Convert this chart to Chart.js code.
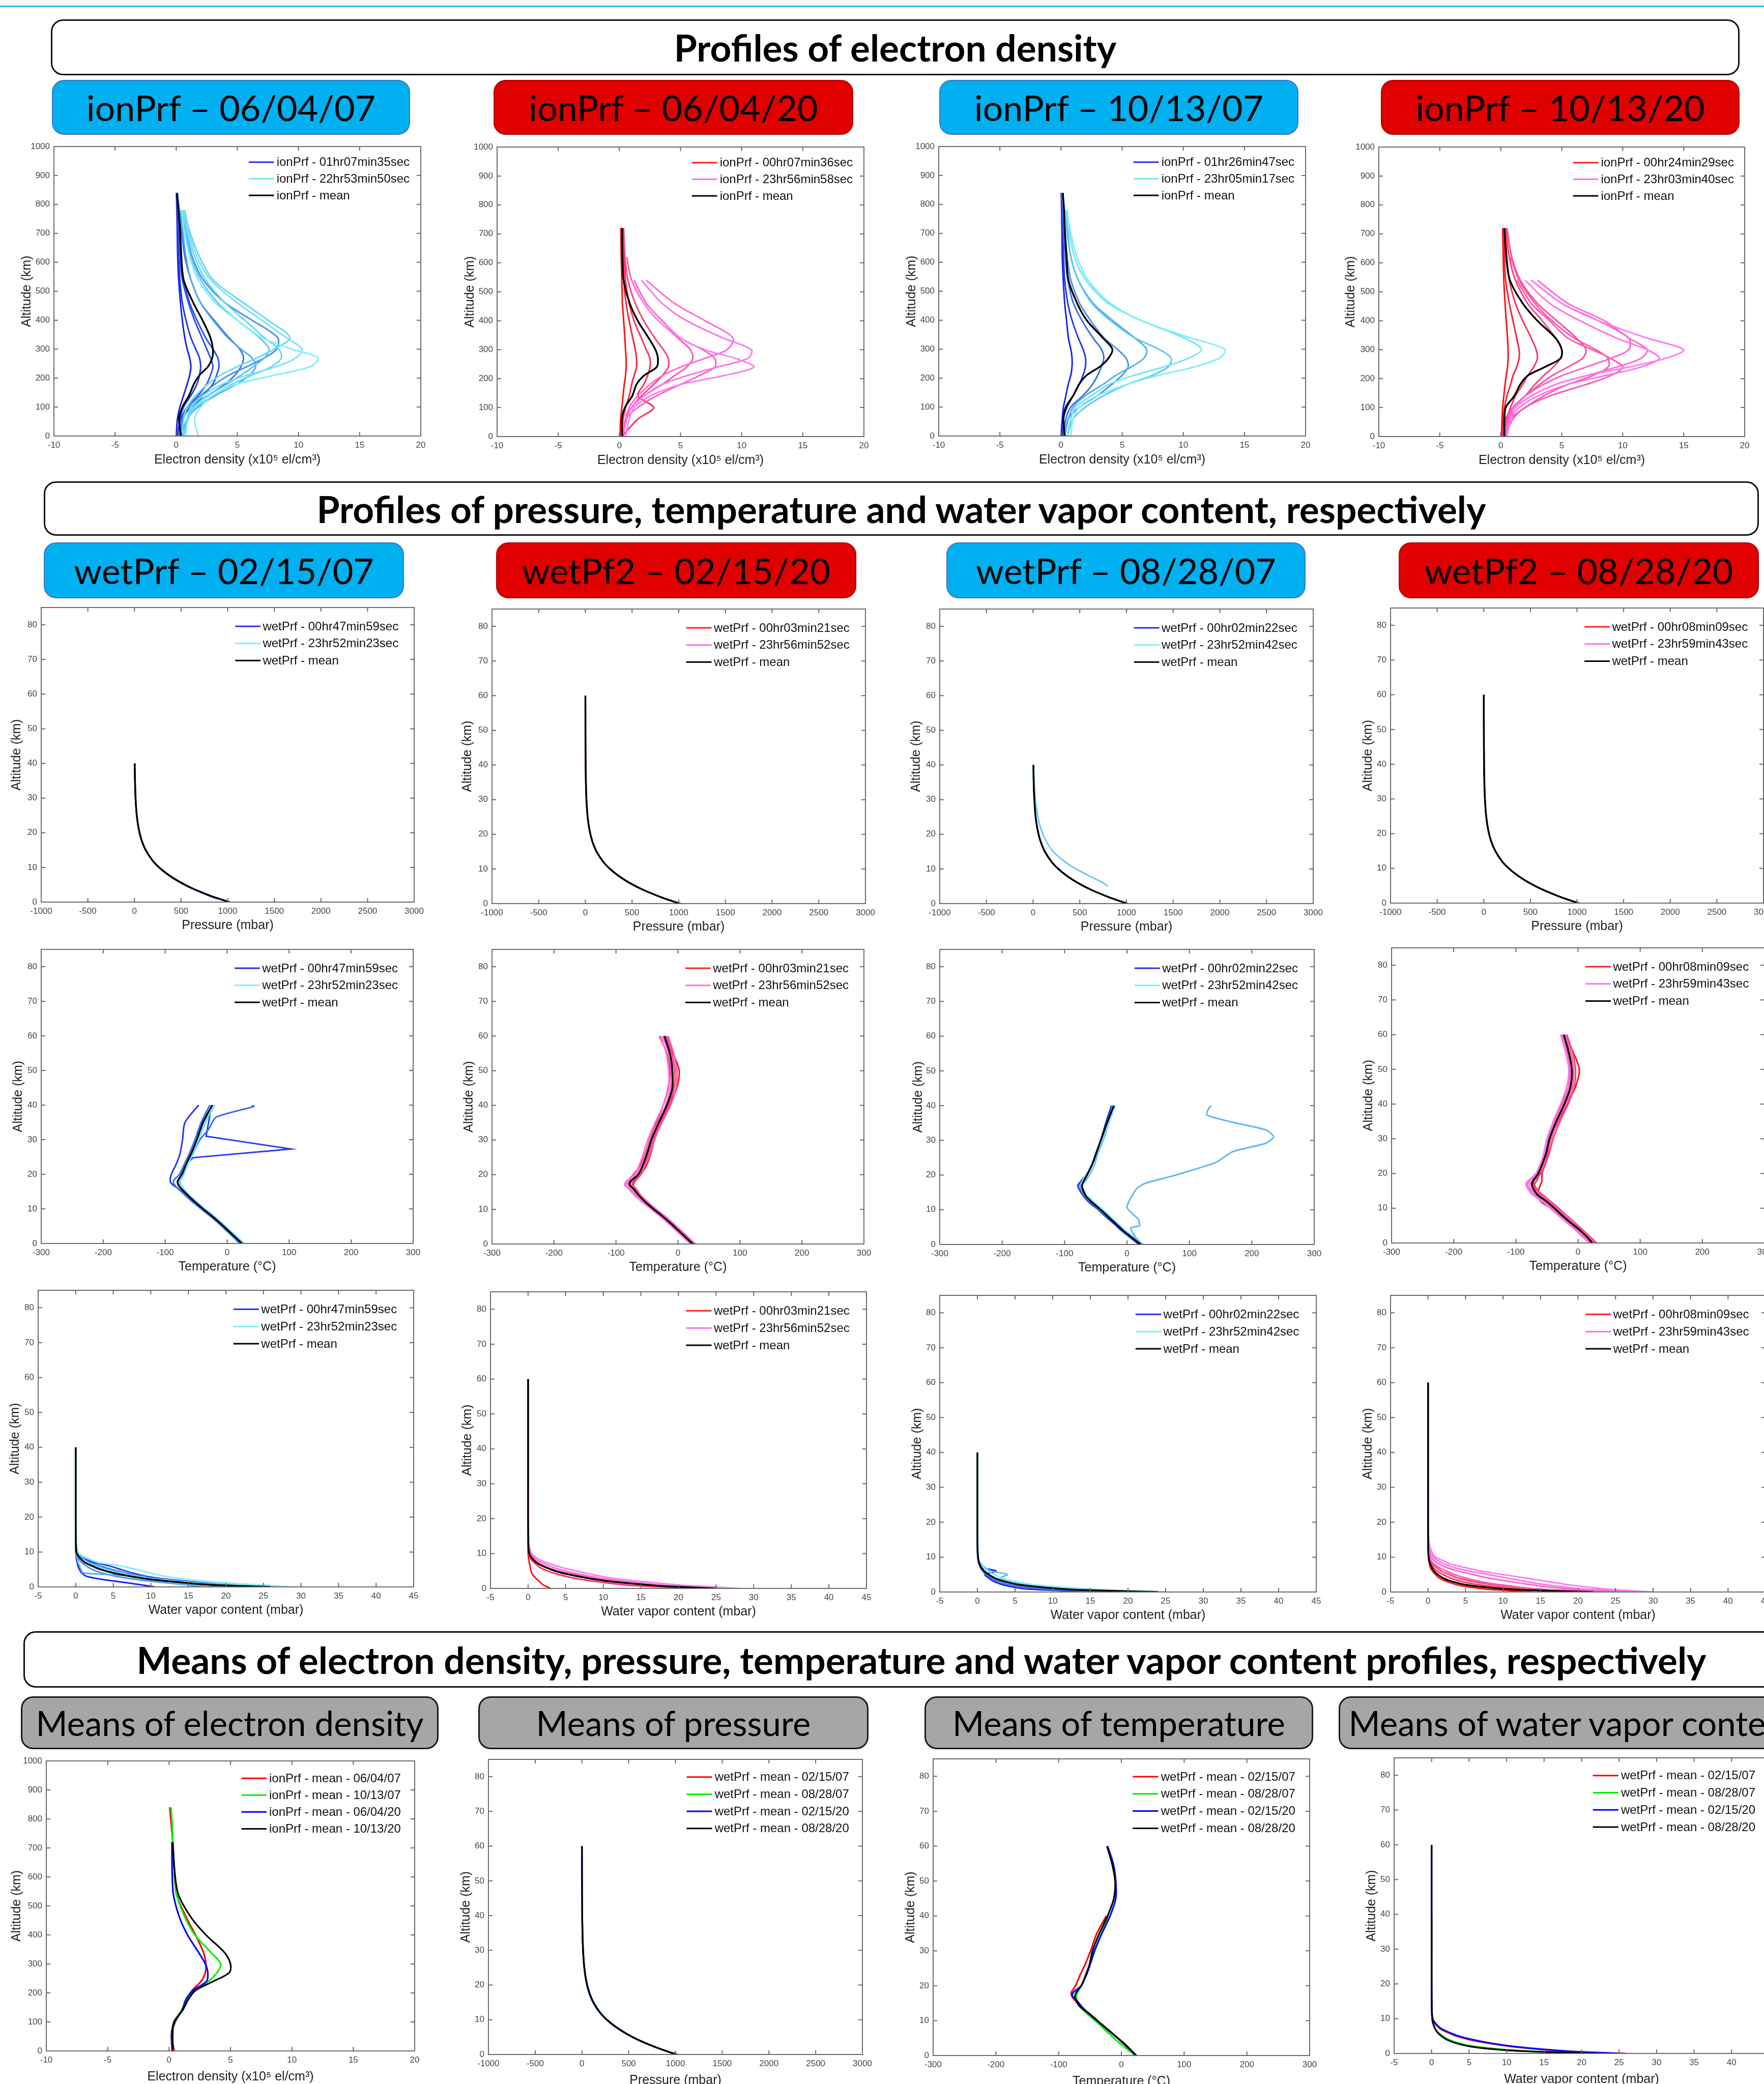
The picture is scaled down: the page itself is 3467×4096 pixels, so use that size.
<!DOCTYPE html>
<html>
<head>
<meta charset="utf-8">
<script src="https://cdn.jsdelivr.net/npm/chart.js@4.4.1/dist/chart.umd.min.js"></script>
<style>
  html, body { margin: 0; padding: 0; background: #fff; overflow: hidden; }
  #page { position: relative; width: 3467px; height: 4096px; overflow: hidden; background: #fff; }
  .rule { position: absolute; left: 0; top: 11px; width: 3467px; height: 3px; background: #29aee6; }
  .title { position: absolute; box-sizing: border-box; border: 3px solid #111; border-radius: 24px; background: #fff;
           font-family: Lato, "Open Sans", sans-serif; font-weight: 700; font-size: 73px; color: #000;
           display: flex; align-items: center; justify-content: center; white-space: nowrap; }
  .tag { position: absolute; box-sizing: border-box; border-radius: 24px; font-family: Lato, "Open Sans", sans-serif;
         font-size: 70px; color: #000; display: flex; align-items: center; justify-content: center; white-space: nowrap; }
  .blue { background: #00b0f0; border: 2px solid #4472c4; }
  .red { background: #e00000; border: 2px solid #b00000; }
  .grey { background: #a6a6a6; border: 3px solid #1a1a1a; font-size: 67px; }
  canvas { position: absolute; }
</style>
</head>
<body>
<div id="page">
  <div class="rule"></div>
  <div class="title" style="left:100px;top:38px;width:3319px;height:110px">Profiles of electron density</div>
  <div class="tag blue" style="left:102px;top:157px;width:704px;height:108px">ionPrf – 06/04/07</div>
  <div class="tag red" style="left:970px;top:157px;width:707px;height:108px">ionPrf – 06/04/20</div>
  <div class="tag blue" style="left:1846px;top:157px;width:706px;height:108px">ionPrf – 10/13/07</div>
  <div class="tag red" style="left:2714px;top:157px;width:705px;height:108px">ionPrf – 10/13/20</div>

  <div class="title" style="left:86px;top:946px;width:3371px;height:107px">Profiles of pressure, temperature and water vapor content, respectively</div>
  <div class="tag blue" style="left:86px;top:1066px;width:708px;height:110px">wetPrf – 02/15/07</div>
  <div class="tag red" style="left:975px;top:1066px;width:708px;height:110px">wetPf2 – 02/15/20</div>
  <div class="tag blue" style="left:1860px;top:1066px;width:706px;height:110px">wetPrf – 08/28/07</div>
  <div class="tag red" style="left:2749px;top:1066px;width:708px;height:110px">wetPf2 – 08/28/20</div>

  <div class="title" style="left:46px;top:3206px;width:3530px;height:111px">Means of electron density, pressure, temperature and water vapor content profiles, respectively</div>
  <div class="tag grey" style="left:41px;top:3334px;width:821px;height:104px">Means of electron density</div>
  <div class="tag grey" style="left:940px;top:3334px;width:767px;height:104px">Means of pressure</div>
  <div class="tag grey" style="left:1817px;top:3334px;width:764px;height:104px">Means of temperature</div>
  <div class="tag grey" style="left:2631px;top:3334px;width:920px;height:104px">Means of water vapor content</div>
</div>

<script>
// ---------- altitude grids (km) ----------
const ionAlt   = [0, 60, 100, 140, 180, 210, 240, 270, 300, 340, 400, 460, 540, 620, 720, 780, 840];
const pressAlt = [0, 1, 2, 4, 6, 8, 10, 12, 15, 18, 21, 25, 30, 35, 40, 50, 60];
const tempAlt  = [0, 2, 4, 6, 8, 10, 12, 14, 16, 17, 18, 20, 23, 26, 30, 35, 40, 45, 50, 55, 60];
const wvAlt    = [0, 0.5, 1, 2, 3, 4, 5, 6, 7, 8, 9, 10, 12, 15, 20, 30, 40, 50, 60];

// ---------- electron density (x10^5 el/cm3) ----------
const ionMean_060407 = [0.4, 0.23, 0.5, 1.05, 1.45, 1.9, 2.6, 2.95, 3.0, 2.8, 2.15, 1.4, 0.6, 0.42, 0.3, 0.18, 0.05];
const ionPrf_060407 = [
  [0.0, 0.1, 0.3, 0.6, 0.9, 1.1, 1.2, 1.1, 0.9, 0.7, 0.5, 0.35, 0.2, 0.12, 0.08, 0.05, 0.02],
  [0.1, 0.3, 0.6, 1.2, 1.7, 1.9, 2.0, 1.9, 1.6, 1.2, 0.8, 0.5, 0.3, 0.2, 0.12, 0.08, 0.03],
  [0.2, 0.4, 0.9, 1.8, 2.5, 2.8, 3.0, 2.8, 2.5, 2.1, 1.5, 1.0, 0.5, 0.3, 0.2, 0.1, 0.04],
  [0.3, 0.5, 1.2, 2.2, 3.0, 3.3, 3.5, 3.4, 3.0, 2.4, 1.7, 1.1, 0.6, 0.4, 0.25, 0.15, 0.05],
  [0.2, 0.5, 1.1, 2.6, 4.0, 4.8, 5.3, 5.5, 5.2, 4.3, 3.1, 2.0, 1.2, 0.7, 0.4, 0.25, 0.1],
  [0.3, 0.6, 1.0, 2.0, 3.2, 4.3, 5.8, 7.2, 8.2, 8.3, 6.2, 4.0, 2.2, 1.3, 0.7, 0.45, null],
  [0.4, 0.9, 1.8, 3.2, 5.0, 6.0, 6.5, 6.2, 5.3, 4.2, 3.0, 2.0, 1.2, 0.8, 0.5, 0.35, null],
  [0.6, 0.9, 1.4, 2.6, 4.2, 5.3, 6.3, 7.2, 7.6, 6.8, 5.0, 3.4, 2.0, 1.2, 0.7, 0.5, null],
  [0.6, 1.0, 1.6, 3.0, 4.6, 6.2, 7.8, 8.6, 8.4, 7.2, 5.6, 4.0, 2.4, 1.5, 0.8, 0.55, null],
  [0.5, 0.6, 0.9, 1.6, 2.6, 3.6, 5.0, 6.6, 8.0, 9.3, 7.5, 5.5, 3.0, 1.9, 1.0, 0.7, null],
  [0.8, 0.9, 1.2, 2.2, 3.8, 5.8, 8.2, 9.8, 10.3, 9.0, 7.0, 5.0, 2.8, 1.7, 0.9, 0.6, null],
  [1.8, 1.5, 2.0, 3.0, 5.0, 8.0, 11.0, 11.6, 9.5, 7.0, 5.0, 3.2, 1.8, 1.1, 0.6, 0.45, null]
];
const ionMean_060420 = [0.25, 0.2, 0.45, 1.05, 1.4, 2.0, 3.05, 3.15, 2.95, 2.4, 1.5, 0.85, 0.35, 0.25, 0.23, null, null];
const ionPrf_060420 = [
  [0.05, 0.1, 0.2, 0.3, 0.4, 0.5, 0.55, 0.55, 0.5, 0.45, 0.35, 0.25, 0.2, 0.15, 0.12, null, null],
  [0.1, 0.3, 0.5, 0.8, 1.0, 1.2, 1.4, 1.4, 1.3, 1.1, 0.8, 0.55, 0.35, 0.3, 0.25, null, null],
  [0.2, 1.5, 2.8, 1.5, 2.0, 2.3, 2.5, 2.5, 2.2, 1.8, 1.2, 0.8, 0.5, 0.4, 0.3, null, null],
  [0.3, 0.5, 1.0, 1.8, 2.8, 3.5, 4.0, 4.0, 3.6, 2.9, 2.0, 1.3, 0.7, 0.45, 0.35, null, null],
  [0.2, 0.5, 1.0, 2.0, 3.5, 4.5, 5.5, 6.0, 5.8, 4.8, 3.2, 2.0, 1.0, 0.6, null, null, null],
  [0.2, 0.5, 1.5, 3.0, 5.0, 6.5, 7.8, 7.8, 6.8, 5.0, 3.5, 2.2, 1.2, null, null, null, null],
  [0.3, 0.5, 0.8, 1.5, 2.5, 3.5, 5.0, 7.0, 8.8, 9.3, 7.0, 4.5, 2.2, null, null, null, null],
  [0.3, 0.6, 1.0, 2.0, 3.5, 5.5, 8.0, 10.5, 10.8, 8.5, 5.5, 3.5, 1.8, null, null, null, null],
  [0.5, 0.8, 1.2, 2.5, 5.0, 8.5, 11.0, 9.5, 7.0, 5.0, 3.2, 2.0, 1.0, null, null, null, null]
];
const ionMean_101307 = [0.3, 0.2, 0.4, 1.0, 1.5, 2.1, 3.2, 3.9, 4.2, 3.4, 2.1, 1.3, 0.6, 0.45, 0.3, 0.25, 0.15];
const ionPrf_101307 = [
  [0.0, 0.1, 0.2, 0.4, 0.6, 0.8, 0.9, 0.9, 0.8, 0.6, 0.45, 0.3, 0.18, 0.1, 0.07, 0.05, 0.02],
  [0.1, 0.2, 0.5, 1.0, 1.5, 1.8, 2.0, 2.0, 1.8, 1.4, 0.9, 0.55, 0.3, 0.2, 0.12, 0.08, 0.04],
  [0.2, 0.4, 0.8, 1.8, 2.6, 3.0, 3.3, 3.5, 3.3, 2.6, 1.7, 1.0, 0.55, 0.35, 0.22, 0.15, 0.08],
  [0.3, 0.6, 1.5, 3.0, 4.2, 5.0, 5.5, 5.3, 4.6, 3.5, 2.4, 1.5, 0.8, 0.5, 0.3, 0.2, 0.1],
  [0.3, 0.6, 1.0, 2.0, 3.5, 4.5, 5.8, 6.8, 7.0, 6.0, 4.2, 2.6, 1.4, 0.8, 0.45, 0.3, null],
  [0.5, 1.0, 2.0, 3.5, 5.5, 7.5, 8.8, 9.0, 8.0, 6.0, 4.0, 2.5, 1.4, 0.8, 0.5, 0.3, null],
  [0.5, 0.8, 1.2, 2.5, 4.0, 6.0, 8.5, 10.5, 11.5, 10.0, 6.5, 3.8, 2.0, 1.1, 0.6, 0.4, null],
  [0.8, 1.0, 1.5, 3.0, 5.5, 8.0, 11.0, 13.0, 13.4, 10.5, 6.5, 4.0, 2.2, 1.3, 0.7, 0.5, null]
];
const ionMean_101320 = [0.3, 0.3, 0.4, 1.1, 1.6, 2.2, 3.6, 4.9, 5.0, 4.5, 3.0, 1.8, 0.75, 0.45, 0.3, null, null];
const ionPrf_101320 = [
  [0.05, 0.1, 0.15, 0.25, 0.35, 0.45, 0.55, 0.6, 0.6, 0.55, 0.45, 0.35, 0.25, 0.2, 0.15, null, null],
  [0.1, 0.2, 0.3, 0.5, 0.8, 1.0, 1.3, 1.5, 1.5, 1.3, 1.0, 0.7, 0.4, 0.3, 0.2, null, null],
  [0.2, 0.5, 0.8, 1.2, 1.8, 2.2, 2.7, 3.0, 2.9, 2.5, 1.8, 1.2, 0.7, 0.5, 0.35, null, null],
  [0.2, 0.4, 1.0, 2.0, 2.8, 3.5, 4.3, 4.9, 5.0, 4.5, 3.4, 2.2, 1.2, 0.7, 0.4, null, null],
  [0.3, 0.5, 1.0, 2.0, 3.2, 4.2, 5.5, 6.7, 7.0, 6.2, 4.6, 3.0, 1.6, 0.9, 0.5, null, null],
  [0.3, 0.8, 2.0, 3.5, 5.5, 7.5, 8.8, 8.8, 7.8, 6.0, 4.2, 2.8, 1.5, 0.8, null, null, null],
  [0.3, 1.0, 2.0, 4.0, 7.0, 9.0, 10.0, 9.0, 7.5, 5.5, 4.0, 2.5, 1.3, null, null, null, null],
  [0.3, 0.6, 1.0, 2.0, 3.5, 5.0, 7.0, 9.0, 10.5, 10.5, 8.0, 5.0, 2.5, null, null, null, null],
  [0.4, 0.7, 1.2, 2.5, 4.5, 7.0, 9.5, 11.5, 12.0, 10.5, 8.5, 5.5, 3.0, null, null, null, null],
  [0.5, 0.8, 1.5, 3.0, 5.5, 8.5, 11.5, 13.0, 12.0, 9.5, 6.5, 4.0, 2.0, null, null, null, null],
  [0.5, 0.8, 1.2, 2.5, 4.5, 7.0, 10.5, 13.5, 15.0, 12.0, 8.0, 5.0, 2.5, null, null, null, null]
];

// ---------- pressure (mbar) ----------
const pMean_021507 = [1020, 902, 797, 618, 473, 357, 265, 194, 121, 75, 47, 25, 12, 6, 3];
const pPrf_021507 = [
  [null, 885, 785, 610, 468, 354, 263, 193, 120, 74, 46, 24, 11, 5, 2.5],
  [1025, 905, 800, 620, 476, 360, 267, 196, 122, 76, 47, 25, 12, 6, 3]
];
const pMean_021520 = [1015, 900, 796, 617, 472, 356, 264, 193, 120, 74, 46, 24, 11.5, 5.5, 2.8, 0.8, 0.2];
const pPrf_021520 = [
  [1010, 896, 792, 614, 470, 354, 262, 192, 119, 73, 45, 24, 11, 5.3, 2.7, 0.8, 0.2],
  [1022, 904, 800, 621, 476, 359, 266, 195, 122, 75, 47, 25, 12, 5.8, 2.9, 0.8, 0.2]
];
const pMean_082807 = [1010, 898, 797, 620, 477, 362, 270, 199, 126, 79, 50, 27, 13, 6, 3];
const pPrf_082807 = [
  [1012, 900, 799, 622, 479, 364, 272, 200, 127, 80, 51, 27, 13, 6, 3]
];
const pOutAlt_082807 = [5, 6, 8, 10, 12, 15, 18, 21, 25, 30, 35, 40];
const pOutVal_082807 = [800, 750, 600, 460, 345, 215, 140, 90, 52, 24, 11, 5];
const pMean_082820 = [1015, 902, 799, 621, 477, 361, 268, 197, 124, 77, 48, 26, 12.5, 6, 3, 0.8, 0.2];
const pPrf_082820 = [
  [1012, 899, 796, 618, 474, 358, 266, 195, 123, 76, 48, 25, 12, 5.8, 2.9, 0.8, 0.2],
  [1025, 908, 803, 624, 479, 363, 270, 198, 125, 78, 49, 26, 12.5, 6, 3, 0.8, 0.2]
];

// ---------- temperature (°C) ----------
const tMean_021507 = [24, 12, 0, -12, -25, -39, -52, -64, -75, -79, -80, -73, -66, -58, -49, -39, -24];
const tPrf_021507 = [
  [23, 11, -1, -13, -26, -40, -54, -66, -80, -88, -92, -90, -82, -76, -72, -68, -46],
  [20, 9, -3, -15, -28, -42, -56, -68, -80, -85, -87, -77, -69, -61, -52, -42, -28],
  [26, 14, 2, -10, -23, -37, -50, -62, -72, -76, -77, -71, -65, -57, -48, -36, -21],
  [27, 15, 3, -9, -22, -36, -49, -61, -71, -75, -76, -70, -63, -55, -46, -35, -20],
  [25, 13, 1, -11, -24, -38, -51, -63, -74, -78, -79, -72, -64, -57, -47, -37, -22]
];
const tSpikeAlt_021507 = [0, 4, 8, 12, 16, 18, 20, 23, 24.8, 27.3, 31, 35, 40];
const tSpikeVal_021507 = [24, 0, -25, -52, -75, -80, -74, -66, -55, 103, -34, -30, -25];
const tHookAlt_021507  = [0, 4, 8, 12, 16, 18, 22, 26, 30, 33, 36.5, 39.6, 40];
const tHookVal_021507  = [25, 1, -24, -50, -73, -78, -68, -55, -44, -30, -18, 43, 40];

const tMean_021520 = [24, 12, 0, -12, -25, -39, -52, -63, -72, -78, -77, -64, -56, -50, -43, -31, -18, -9, -9, -13, -22];
const tPrf_021520 = [
  [22, 10, -2, -14, -27, -41, -54, -64, -70, -72, -70, -60, -50, -44, -38, -28, -14, -2, 2, -8, -20],
  [26, 14, 2, -10, -23, -37, -50, -62, -74, -80, -82, -72, -60, -53, -46, -35, -24, -16, -13, -18, -30],
  [27, 15, 3, -9, -22, -36, -49, -60, -68, -73, -72, -60, -53, -47, -40, -28, -15, -6, -5, -10, -18],
  [28, 16, 4, -8, -21, -35, -48, -60, -70, -76, -75, -62, -52, -45, -38, -26, -12, -3, -2, -7, -16],
  [23, 11, -1, -13, -26, -40, -53, -66, -78, -84, -82, -68, -58, -52, -45, -33, -20, -12, -11, -15, -25],
  [20, 8, -4, -16, -29, -43, -57, -70, -80, -86, -84, -70, -62, -56, -49, -37, -24, -15, -15, -19, -28],
  [25, 13, 1, -11, -24, -38, -51, -62, -73, -80, -80, -66, -57, -51, -44, -32, -19, -10, -8, -12, -21]
];
const tMean_082807 = [22, 8, -6, -18, -30, -42, -55, -66, -71, -72, -70, -64, -56, -50, -42, -32, -21];
const tPrf_082807 = [
  [19, 5, -9, -21, -34, -46, -60, -70, -77, -79, -75, -66, -56, -49, -42, -34, -25],
  [22, 8, -6, -18, -31, -44, -57, -68, -74, -76, -72, -65, -56, -50, -42, -32, -22],
  [24, 10, -4, -16, -29, -42, -55, -65, -72, -74, -68, -60, -52, -47, -38, -29, -19],
  [26, 12, -2, -14, -26, -38, -51, -63, -70, -73, -72, -66, -57, -50, -41, -30, -18]
];
const tOutAlt_082807 = [0, 2, 4.8, 5.4, 7.3, 10.7, 16, 17.6, 19.8, 23.6, 26.7, 29.2, 31, 33, 35.4, 37.3, 39.2, 40];
const tOutVal_082807 = [25, 14, 6, 20, 18, 0, 15, 29, 74, 142, 169, 223, 235, 223, 165, 128, 131, 135];
const tMean_082820 = [23, 13, 1, -13, -26, -38, -51, -66, -73, -74, -72, -64, -57, -51, -46, -35, -22, -12, -10, -15, -23];
const tPrf_082820 = [
  [22, 11, -1, -14, -28, -44, -60, -66, -62, -60, -58, -58, -52, -48, -44, -32, -18, -4, 2, -8, -20],
  [26, 14, 2, -11, -24, -36, -48, -62, -68, -70, -66, -62, -58, -52, -46, -38, -26, -18, -12, -16, -26],
  [30, 18, 6, -6, -19, -31, -44, -58, -70, -72, -70, -60, -52, -46, -40, -29, -16, -6, -4, -9, -18],
  [28, 16, 4, -8, -21, -34, -47, -62, -72, -76, -73, -63, -55, -49, -43, -33, -19, -9, -7, -12, -20],
  [20, 9, -3, -16, -29, -42, -55, -70, -80, -82, -78, -67, -60, -54, -49, -38, -25, -15, -13, -18, -26],
  [18, 6, -6, -19, -32, -45, -58, -74, -82, -84, -80, -68, -60, -55, -50, -40, -28, -18, -15, -20, -28],
  [24, 12, 0, -12, -25, -39, -53, -68, -77, -79, -76, -66, -59, -53, -47, -36, -23, -13, -11, -15, -24]
];

// ---------- water vapor content (mbar) ----------
const wMean_021507 = [25.9, 19, 15.6, 10.7, 7.4, 5.0, 3.3, 2.2, 1.2, 0.7, 0.3, 0.1, 0.03, 0.01, 0, 0, 0];
const wPrf_021507 = [
  [10.5, 9, 7.5, 4, 1.5, 0.8, 0.5, 0.3, 0.2, 0.1, 0.05, 0, 0, 0, 0, 0, 0],
  [26, 22, 18, 13, 9.5, 7.5, 6, 4.5, 2.5, 1.2, 0.5, 0.2, 0.05, 0, 0, 0, 0],
  [24, 20, 17, 12, 8.5, 6.5, 4.8, 3.2, 2.0, 1.1, 0.5, 0.2, 0.05, 0, 0, 0, 0],
  [21, 17, 13, 8.5, 5.5, 3.5, 2.2, 1.4, 0.8, 0.4, 0.2, 0.1, 0.03, 0, 0, 0, 0],
  [17, 15, 13, 10, 9, 1.0, 0.7, 0.5, 0.3, 0.2, 0.1, 0.05, 0, 0, 0, 0, 0],
  [23, 18, 15, 11, 8, 5.5, 4, 2.5, 1.4, 0.8, 0.35, 0.12, 0.04, 0, 0, 0, 0],
  [27.5, 22, 17, 12, 8, 6, 4, 2.8, 1.6, 0.9, 0.4, 0.15, 0.05, 0, 0, 0, 0],
  [28.5, 25, 21, 15.5, 12, 10, 8, 6, 3, 1.8, 0.8, 0.3, 0.1, 0, 0, 0, 0]
];
const wMean_021520 = [25, 19.5, 16, 11, 7.8, 5.4, 3.6, 2.4, 1.4, 0.8, 0.4, 0.15, 0.05, 0.02, 0, 0, 0, 0, 0];
const wPrf_021520 = [
  [3, 2.5, 2, 1.5, 1, 0.6, 0.4, 0.3, 0.2, 0.1, 0.05, 0, 0, 0, 0, 0, 0, 0, 0],
  [22, 17, 13, 9, 6, 4, 2.6, 1.6, 1.0, 0.5, 0.2, 0.1, 0.03, 0, 0, 0, 0, 0, 0],
  [25, 20, 16.5, 12, 8.5, 6, 4, 2.6, 1.6, 0.9, 0.5, 0.2, 0.06, 0.02, 0, 0, 0, 0, 0],
  [26, 21, 17.5, 13, 9.5, 7, 5, 3.4, 2.2, 1.3, 0.7, 0.3, 0.1, 0.03, 0, 0, 0, 0, 0],
  [28, 24, 20, 15, 11, 8.5, 6.5, 4.5, 3, 1.8, 1.0, 0.5, 0.15, 0.05, 0, 0, 0, 0, 0]
];
const wMean_082807 = [24, 15, 10.5, 5.8, 3.6, 2.3, 1.5, 0.9, 0.5, 0.3, 0.15, 0.08, 0.03, 0, 0, 0, 0];
const wPrf_082807 = [
  [17, 10, 6, 3.5, 2.2, 1.5, 1.0, 2.5, 0.6, 0.3, 0.1, 0.05, 0, 0, 0, 0, 0],
  [21, 12, 8, 4.5, 2.8, 1.8, 1.1, 0.7, 0.4, 0.2, 0.1, 0.05, 0, 0, 0, 0, 0],
  [23, 16, 12, 7, 4.5, 3, 4, 1.8, 1, 0.5, 0.2, 0.1, 0.02, 0, 0, 0, 0],
  [25, 19, 14, 8, 5, 3.2, 2.2, 1.4, 0.8, 0.4, 0.2, 0.1, 0.03, 0, 0, 0, 0]
];
const wMean_082820 = [22, 14, 9.5, 5.2, 3.2, 2.0, 1.3, 0.8, 0.5, 0.3, 0.15, 0.08, 0.03, 0.01, 0, 0, 0, 0, 0];
const wPrf_082820 = [
  [14, 10, 7, 4, 2.5, 1.5, 1, 0.6, 0.3, 0.2, 0.1, 0.05, 0, 0, 0, 0, 0, 0, 0],
  [18, 14, 11, 7, 4.5, 3, 2, 1.2, 0.7, 0.4, 0.2, 0.1, 0.03, 0, 0, 0, 0, 0, 0],
  [22, 17, 13, 9, 6, 4, 2.8, 1.8, 1.1, 0.6, 0.3, 0.15, 0.04, 0, 0, 0, 0, 0, 0],
  [24, 18, 14, 10, 7, 5, 3.5, 2.5, 1.5, 0.8, 0.4, 0.2, 0.05, 0.02, 0, 0, 0, 0, 0],
  [26, 22, 18, 14, 11, 8, 6, 4, 2.5, 1.5, 0.8, 0.4, 0.1, 0.03, 0, 0, 0, 0, 0],
  [28, 24, 20, 16, 13, 10.5, 8, 5.5, 3.5, 2.2, 1.3, 0.7, 0.2, 0.05, 0, 0, 0, 0, 0],
  [30, 26, 23, 19, 16, 13, 10, 7, 5, 3, 2, 1, 0.4, 0.1, 0, 0, 0, 0, 0]
];

// ---------- styling ----------
const FONT = '"Liberation Sans", Arial, Helvetica, sans-serif';
const BLUES = ['#1a22f0', '#2238f0', '#2c52f0', '#386ef0', '#4a90ee', '#56acf0', '#60c4f4', '#68d6f6', '#72e4f8', '#7cf0fb'];
const REDS  = ['#ff1010', '#ff2038', '#ff2f5c', '#ff3f7c', '#ff4c98', '#ff58b0', '#ff62c6', '#ff6bd8', '#ff74e6', '#ff7cf0'];
const LEG_B = ['#2a30f2', '#6ee8f8'];
const LEG_R = ['#ff2020', '#ff70e6'];
const PRF_W = 3;

function pts(alt, vals) {
  const out = [];
  vals.forEach(function (v, i) { if (v !== null) out.push({ x: v, y: alt[i] }); });
  return out;
}
function line(data, color, width, tension) {
  return { data: data, borderColor: color, backgroundColor: color, borderWidth: width, showLine: true,
           pointRadius: 0, pointHoverRadius: 0, tension: tension, fill: false };
}
function bundle(alt, profiles, palette) {
  return profiles.map(function (v, i) {
    const k = Math.round(i * (palette.length - 1) / Math.max(1, profiles.length - 1));
    return line(pts(alt, v), palette[k], PRF_W, 0.3);
  });
}

// MATLAB-like box, inward ticks and legend
const matlabBox = {
  id: 'matlabBox',
  afterDatasetsDraw(chart, args, o) {
    const ctx = chart.ctx, a = chart.chartArea;
    const xs = chart.scales.x, ys = chart.scales.y;
    const w = a.right - a.left, h = a.bottom - a.top;
    ctx.save();
    ctx.strokeStyle = '#6b6b6b';
    ctx.lineWidth = 2;
    ctx.strokeRect(a.left, a.top, w, h);
    ctx.beginPath();
    xs.ticks.forEach(function (t) {
      const px = xs.getPixelForValue(t.value);
      ctx.moveTo(px, a.bottom); ctx.lineTo(px, a.bottom - 8);
      ctx.moveTo(px, a.top); ctx.lineTo(px, a.top + 8);
    });
    ys.ticks.forEach(function (t) {
      const py = ys.getPixelForValue(t.value);
      ctx.moveTo(a.left, py); ctx.lineTo(a.left + 8, py);
      ctx.moveTo(a.right, py); ctx.lineTo(a.right - 8, py);
    });
    ctx.stroke();
    ctx.font = '24px ' + FONT;
    ctx.textBaseline = 'middle';
    ctx.textAlign = 'left';
    ctx.fillStyle = '#111';
    o.entries.forEach(function (e, i) {
      const y = a.top + h * (o.r0 + i * o.step);
      ctx.strokeStyle = e.c;
      ctx.lineWidth = 3;
      ctx.beginPath();
      ctx.moveTo(a.left + w * o.x0, y); ctx.lineTo(a.left + w * o.x1, y);
      ctx.stroke();
      ctx.fillText(e.t, a.left + w * o.tx, y + 1);
    });
    ctx.restore();
  }
};

function axis(min, max, step, title, fit) {
  return {
    type: 'linear', min: min, max: max,
    ticks: { stepSize: step, includeBounds: false, autoSkip: false, maxRotation: 0, padding: 8,
             color: '#444', font: { family: FONT, size: 17 }, callback: function (v) { return String(v); } },
    grid: { display: false, drawTicks: false },
    border: { display: false },
    title: { display: true, text: title, color: '#222', font: { family: FONT, size: 25 }, padding: { top: 4, bottom: 4 } },
    afterFit: fit
  };
}

// datasets are listed bottom-to-top; Chart.js paints index 0 last, so reverse
function panel(g, xr, yr, xTitle, datasets, leg, ytOff, xtOff) {
  const AXW = ytOff + 19, AXH = xtOff + 19, PT = 22, PR = 34;
  const c = document.createElement('canvas');
  c.width = Math.round(AXW + g[2] + PR);
  c.height = Math.round(PT + g[3] + AXH);
  c.style.left = Math.round(g[0] - AXW) + 'px';
  c.style.top = Math.round(g[1] - PT) + 'px';
  document.getElementById('page').appendChild(c);
  new Chart(c.getContext('2d'), {
    type: 'scatter',
    data: { datasets: datasets.slice().reverse() },
    options: {
      responsive: false, animation: false, devicePixelRatio: 1,
      layout: { padding: { top: PT, right: PR, left: 0, bottom: 0 } },
      plugins: { legend: { display: false }, tooltip: { enabled: false }, matlabBox: leg },
      scales: {
        x: axis(xr[0], xr[1], xr[2], xTitle, function (s) { s.height = AXH; }),
        y: axis(yr[0], yr[1], yr[2], 'Altitude (km)', function (s) { s.width = AXW; })
      }
    },
    plugins: [matlabBox]
  });
}

const LEG3_ION = { x0: 0.531, x1: 0.600, tx: 0.607, r0: 0.054, step: 0.0573 };
const LEG3_WET = { x0: 0.520, x1: 0.588, tx: 0.594, r0: 0.064, step: 0.058 };
const LEG4 = { x0: 0.530, x1: 0.598, tx: 0.605, r0: 0.060, step: 0.058 };
function leg(base, entries) { return Object.assign({ entries: entries }, base); }
function ent3(prefix, t1, t2, pal) {
  return [{ t: prefix + ' - ' + t1, c: pal[0] }, { t: prefix + ' - ' + t2, c: pal[1] }, { t: prefix + ' - mean', c: '#000' }];
}

const X_ION = [-10, 20, 5], Y_ION = [0, 1000, 100];
const X_P = [-1000, 3000, 500], X_T = [-300, 300, 100], X_W = [-5, 45, 5], Y_WET = [0, 85, 10];
const T_ION = 'Electron density (x10⁵ el/cm³)', T_P = 'Pressure (mbar)', T_T = 'Temperature (°C)', T_W = 'Water vapor content (mbar)';
const MEANW = 3.5;

// ---- row 1: electron density ----
panel([105.6, 288, 721, 569], X_ION, Y_ION, T_ION,
  bundle(ionAlt, ionPrf_060407, BLUES).concat([line(pts(ionAlt, ionMean_060407), '#000', MEANW, 0.3)]),
  leg(LEG3_ION, ent3('ionPrf', '01hr07min35sec', '22hr53min50sec', LEG_B)), 53, 47);
panel([976.7, 289, 721, 569], X_ION, Y_ION, T_ION,
  bundle(ionAlt, ionPrf_060420, REDS).concat([line(pts(ionAlt, ionMean_060420), '#000', MEANW, 0.3)]),
  leg(LEG3_ION, ent3('ionPrf', '00hr07min36sec', '23hr56min58sec', LEG_R)), 53, 47);
panel([1845, 288, 721, 569], X_ION, Y_ION, T_ION,
  bundle(ionAlt, ionPrf_101307, BLUES).concat([line(pts(ionAlt, ionMean_101307), '#000', MEANW, 0.3)]),
  leg(LEG3_ION, ent3('ionPrf', '01hr26min47sec', '23hr05min17sec', LEG_B)), 53, 47);
panel([2710, 289, 719, 569], X_ION, Y_ION, T_ION,
  bundle(ionAlt, ionPrf_101320, REDS).concat([line(pts(ionAlt, ionMean_101320), '#000', MEANW, 0.3)]),
  leg(LEG3_ION, ent3('ionPrf', '00hr24min29sec', '23hr03min40sec', LEG_R)), 55, 47);

// ---- row 2: pressure ----
const E_0215_07 = ['00hr47min59sec', '23hr52min23sec'];
const E_0215_20 = ['00hr03min21sec', '23hr56min52sec'];
const E_0828_07 = ['00hr02min22sec', '23hr52min42sec'];
const E_0828_20 = ['00hr08min09sec', '23hr59min43sec'];

panel([80.7, 1194, 733, 579], X_P, Y_WET, T_P,
  [line(pts(pressAlt, pPrf_021507[1]), '#7cf0fb', PRF_W, 0.3), line(pts(pressAlt, pPrf_021507[0]), '#2a2af5', PRF_W, 0.3),
   line(pts(pressAlt, pMean_021507), '#000', MEANW, 0.3)],
  leg(LEG3_WET, ent3('wetPrf', E_0215_07[0], E_0215_07[1], ['#2a2af5', '#7cf0fb'])), 48, 46);
panel([967, 1197, 734, 579], X_P, Y_WET, T_P,
  [line(pts(pressAlt, pPrf_021520[1]), '#ff70e6', PRF_W, 0.3), line(pts(pressAlt, pPrf_021520[0]), '#ff2020', PRF_W, 0.3),
   line(pts(pressAlt, pMean_021520), '#000', MEANW, 0.3)],
  leg(LEG3_WET, ent3('wetPrf', E_0215_20[0], E_0215_20[1], LEG_R)), 48, 46);
panel([1847, 1197, 734, 579], X_P, Y_WET, T_P,
  [line(pts(pressAlt, pPrf_082807[0]), '#2a2af5', PRF_W, 0.3), line(pts(pOutAlt_082807, pOutVal_082807), '#6cc8f4', PRF_W, 0.3),
   line(pts(pressAlt, pMean_082807), '#000', MEANW, 0.3)],
  leg(LEG3_WET, ent3('wetPrf', E_0828_07[0], E_0828_07[1], ['#2a2af5', '#7cf0fb'])), 46, 46);
panel([2733, 1195, 733, 580], X_P, Y_WET, T_P,
  [line(pts(pressAlt, pPrf_082820[1]), '#ff70e6', PRF_W, 0.3), line(pts(pressAlt, pPrf_082820[0]), '#ff2020', PRF_W, 0.3),
   line(pts(pressAlt, pMean_082820), '#000', MEANW, 0.3)],
  leg(LEG3_WET, ent3('wetPrf', E_0828_20[0], E_0828_20[1], LEG_R)), 44, 46);

// ---- row 3: temperature ----
panel([80.7, 1866, 731, 578], X_T, Y_WET, T_T,
  [line(pts(tSpikeAlt_021507, tSpikeVal_021507), '#2a3cf2', PRF_W, 0),
   line(pts(tHookAlt_021507, tHookVal_021507), '#3a6af0', PRF_W, 0.2)]
    .concat(bundle(tempAlt, tPrf_021507, BLUES.slice(1)))
    .concat([line(pts(tempAlt, tMean_021507), '#000', MEANW, 0.3)]),
  leg(LEG3_WET, ent3('wetPrf', E_0215_07[0], E_0215_07[1], ['#2a2af5', '#7cf0fb'])), 45, 46);
panel([967, 1866, 731, 579], X_T, Y_WET, T_T,
  bundle(tempAlt, tPrf_021520, REDS).concat([line(pts(tempAlt, tMean_021520), '#000', MEANW, 0.3)]),
  leg(LEG3_WET, ent3('wetPrf', E_0215_20[0], E_0215_20[1], LEG_R)), 45, 46);
panel([1846.6, 1866, 736, 580], X_T, Y_WET, T_T,
  bundle(tempAlt, tPrf_082807, BLUES.slice(1))
    .concat([line(pts(tOutAlt_082807, tOutVal_082807), '#5ab8f0', PRF_W, 0.2),
             line(pts(tempAlt, tMean_082807), '#000', MEANW, 0.3)]),
  leg(LEG3_WET, ent3('wetPrf', E_0828_07[0], E_0828_07[1], ['#2a2af5', '#7cf0fb'])), 42, 46);
panel([2735, 1863, 733, 580], X_T, Y_WET, T_T,
  bundle(tempAlt, tPrf_082820, REDS).concat([line(pts(tempAlt, tMean_082820), '#000', MEANW, 0.3)]),
  leg(LEG3_WET, ent3('wetPrf', E_0828_20[0], E_0828_20[1], LEG_R)), 45, 46);

// ---- row 4: water vapor ----
panel([75.3, 2536, 738, 583], X_W, Y_WET, T_W,
  bundle(wvAlt, wPrf_021507, BLUES).concat([line(pts(wvAlt, wMean_021507), '#000', MEANW, 0.3)]),
  leg(LEG3_WET, ent3('wetPrf', E_0215_07[0], E_0215_07[1], ['#2a2af5', '#7cf0fb'])), 45, 46);
panel([964, 2539, 739, 583], X_W, Y_WET, T_W,
  bundle(wvAlt, wPrf_021520, REDS).concat([line(pts(wvAlt, wMean_021520), '#000', MEANW, 0.3)]),
  leg(LEG3_WET, ent3('wetPrf', E_0215_20[0], E_0215_20[1], LEG_R)), 45, 46);
panel([1847, 2546, 740, 583], X_W, Y_WET, T_W,
  bundle(wvAlt, wPrf_082807, BLUES).concat([line(pts(wvAlt, wMean_082807), '#000', MEANW, 0.3)]),
  leg(LEG3_WET, ent3('wetPrf', E_0828_07[0], E_0828_07[1], ['#2a2af5', '#7cf0fb'])), 44, 46);
panel([2733, 2546, 737, 583], X_W, Y_WET, T_W,
  bundle(wvAlt, wPrf_082820, REDS).concat([line(pts(wvAlt, wMean_082820), '#000', MEANW, 0.3)]),
  leg(LEG3_WET, ent3('wetPrf', E_0828_20[0], E_0828_20[1], LEG_R)), 44, 46);

// ---- row 5: means ----
const MEAN_COLORS = ['#ff0000', '#00ee00', '#0000ff', '#000000'];
function meanSet(alt, arrs) {
  return arrs.map(function (v, i) { return line(pts(alt, v), MEAN_COLORS[i], 3.2, 0.3); });
}
function ent4(prefix, dates) {
  return dates.map(function (d, i) { return { t: prefix + ' - mean - ' + d, c: MEAN_COLORS[i] }; });
}
const ION_DATES = ['06/04/07', '10/13/07', '06/04/20', '10/13/20'];
const WET_DATES = ['02/15/07', '08/28/07', '02/15/20', '08/28/20'];

panel([91.3, 3461, 724, 570], X_ION, Y_ION, T_ION,
  meanSet(ionAlt, [ionMean_060407, ionMean_101307, ionMean_060420, ionMean_101320]),
  leg(LEG4, ent4('ionPrf', ION_DATES)), 58, 51);
panel([959.6, 3458, 735, 580], X_P, Y_WET, T_P,
  meanSet(pressAlt, [pMean_021507, pMean_082807, pMean_021520, pMean_082820]),
  leg(LEG4, ent4('wetPrf', WET_DATES)), 44, 51);
panel([1834, 3457, 740, 583], X_T, Y_WET, T_T,
  meanSet(tempAlt, [tMean_021507, tMean_082807, tMean_021520, tMean_082820]),
  leg(LEG4, ent4('wetPrf', WET_DATES)), 44, 51);
panel([2740, 3455, 737, 581], X_W, Y_WET, T_W,
  meanSet(wvAlt, [wMean_021507, wMean_082807, wMean_021520, wMean_082820]),
  leg(LEG4, ent4('wetPrf', WET_DATES)), 44, 51);
</script>
</body>
</html>
